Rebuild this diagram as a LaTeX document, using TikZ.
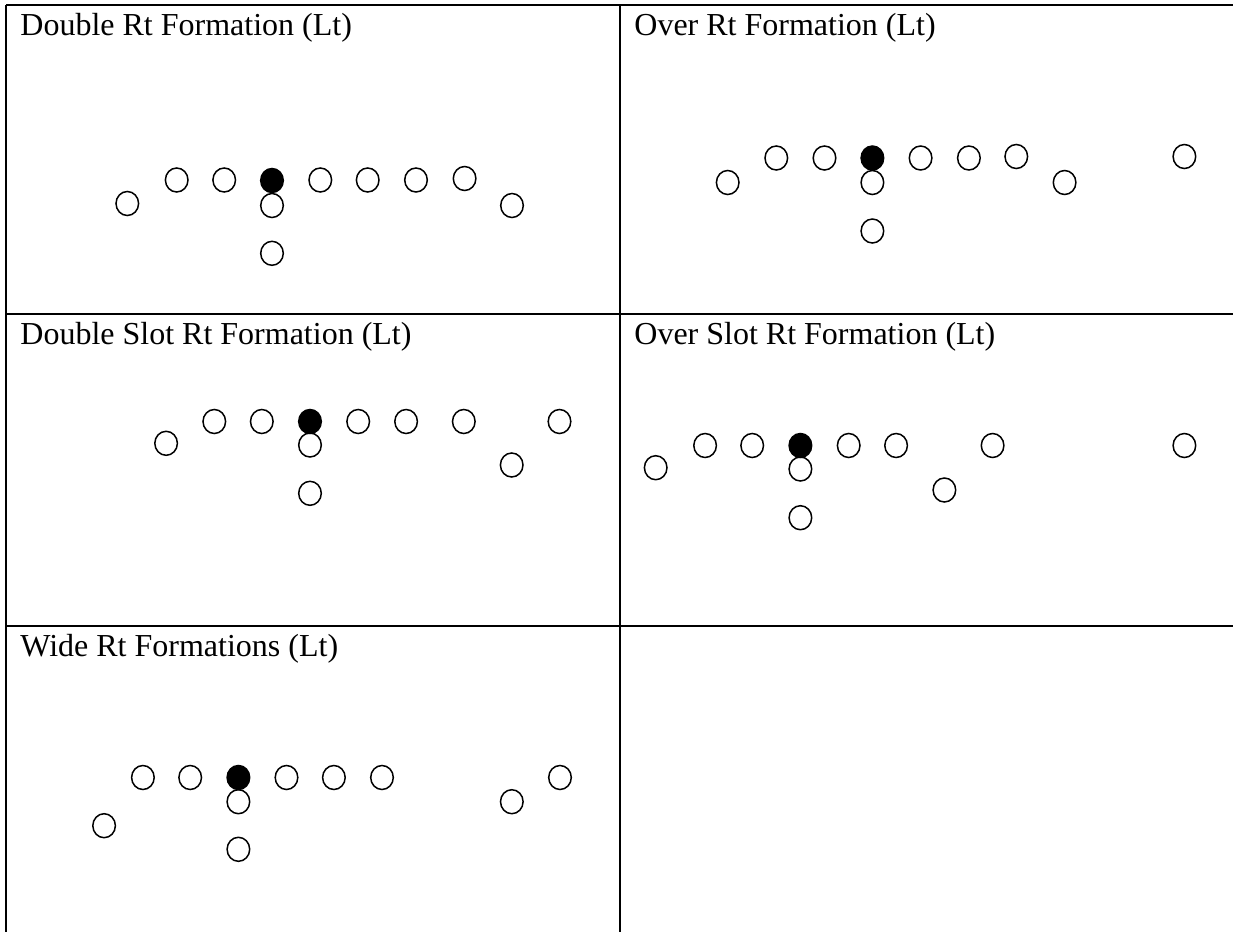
\documentclass[tikz,border=0pt]{standalone}
\usepackage{fontspec}
\setmainfont{Liberation Serif}
\usetikzlibrary{shapes.geometric}
\begin{document}
\begin{tikzpicture}[x=0.5pt,y=-0.5pt,
  player/.style={draw=black,line width=0.75pt,shape=ellipse,minimum width=11.3pt,minimum height=12pt,inner sep=0pt,fill=white},
  center/.style={player,fill=black},
  grid/.style={draw=black,line width=1pt},
  title/.style={anchor=base west,inner sep=0pt,font=\fontsize{16}{19}\selectfont}]
\useasboundingbox (0,0) rectangle (1233,932);
% table grid
\coordinate (tl) at (6,5);
\coordinate (tr) at (1233,5);
\coordinate (bl) at (6,932);
\coordinate (mt) at (620,5);
\coordinate (mb) at (620,932);
\coordinate (h1l) at (6,314);
\coordinate (h1r) at (1233,314);
\coordinate (h2l) at (6,626);
\coordinate (h2r) at (1233,626);
\draw[grid] (tl) -- (tr);
\draw[grid] (tl) -- (bl);
\draw[grid] (mt) -- (mb);
\draw[grid] (h1l) -- (h1r);
\draw[grid] (h2l) -- (h2r);
% titles
\node[title] (t1) at (20,35) {Double Rt Formation (Lt)};
\node[title] (t2) at (634,35) {Over Rt Formation (Lt)};
\node[title] (t3) at (20,344) {Double Slot Rt Formation (Lt)};
\node[title] (t4) at (634,344) {Over Slot Rt Formation (Lt)};
\node[title] (t5) at (20,656) {Wide Rt Formations (Lt)};
% Panel 1: Double Rt
\node[player] (a1) at (176.7,180) {};
\node[player] (a2) at (224.2,180) {};
\node[player] (a4) at (320.3,180) {};
\node[player] (a5) at (367.7,180) {};
\node[player] (a6) at (416,180) {};
\node[player] (a7) at (464.6,178.5) {};
\node[player] (a8) at (127.3,203.5) {};
\node[player] (a9) at (272,205.5) {};
\node[player] (a10) at (512,205.5) {};
\node[player] (a11) at (272,253.3) {};
\node[center] (a3) at (272,180.5) {};
% Panel 2: Over Rt
\node[player] (b1) at (776.3,158) {};
\node[player] (b2) at (824.5,158) {};
\node[player] (b4) at (920.6,158) {};
\node[player] (b5) at (968.9,158) {};
\node[player] (b6) at (1016.3,156.5) {};
\node[player] (b7) at (1184.4,156.5) {};
\node[player] (b8) at (727.7,182.5) {};
\node[player] (b9) at (872.4,182.5) {};
\node[player] (b10) at (1064.6,182.5) {};
\node[player] (b11) at (872.4,231) {};
\node[center] (b3) at (872.4,158) {};
% Panel 3: Double Slot Rt
\node[player] (c1) at (214.3,421.5) {};
\node[player] (c2) at (261.8,421.5) {};
\node[player] (c4) at (358.2,421.5) {};
\node[player] (c5) at (406.1,421.5) {};
\node[player] (c6) at (463.8,421.5) {};
\node[player] (c7) at (559.5,421.5) {};
\node[player] (c8) at (166.1,443.3) {};
\node[player] (c9) at (310,445) {};
\node[player] (c10) at (511.7,465) {};
\node[player] (c11) at (310,493.3) {};
\node[center] (c3) at (310,421.5) {};
% Panel 4: Over Slot Rt
\node[player] (d1) at (705.1,445.5) {};
\node[player] (d2) at (752.2,445.5) {};
\node[player] (d4) at (848.7,445.5) {};
\node[player] (d5) at (896.1,445.5) {};
\node[player] (d6) at (992.6,445.5) {};
\node[player] (d7) at (1184.4,445.5) {};
\node[player] (d8) at (655.7,467.7) {};
\node[player] (d9) at (800.4,469) {};
\node[player] (d10) at (944.4,490) {};
\node[player] (d11) at (800.4,517.7) {};
\node[center] (d3) at (800.4,445.5) {};
% Panel 5: Wide Rt
\node[player] (e1) at (142.9,777.5) {};
\node[player] (e2) at (190.2,777.5) {};
\node[player] (e4) at (286.5,777.5) {};
\node[player] (e5) at (333.9,777.5) {};
\node[player] (e6) at (382,777.5) {};
\node[player] (e7) at (560,777.5) {};
\node[player] (e8) at (104.1,825.7) {};
\node[player] (e9) at (238.4,801.7) {};
\node[player] (e10) at (511.8,801.7) {};
\node[player] (e11) at (238.4,849.3) {};
\node[center] (e3) at (238.4,777.5) {};
\end{tikzpicture}
\end{document}
